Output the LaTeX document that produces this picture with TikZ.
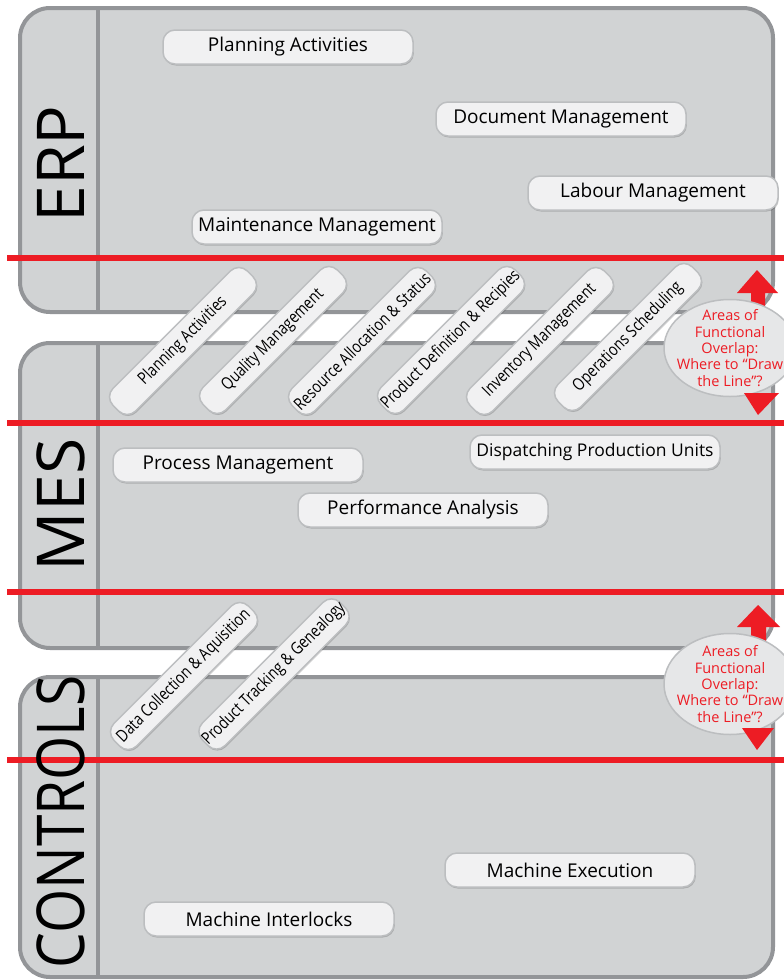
\documentclass[tikz,border=0pt]{standalone}
\usepackage{fontspec}
\setmainfont{Open Sans}
\usepackage{graphicx}
\usetikzlibrary{shapes.geometric,shadows}
\definecolor{panelfill}{HTML}{D1D3D4}
\definecolor{panelline}{HTML}{939598}
\definecolor{pillfill}{HTML}{F1F1F2}
\definecolor{pillline}{HTML}{BCBEC0}
\definecolor{redline}{HTML}{ED1C24}
\definecolor{ovfill}{HTML}{E6E7E8}
\newcommand{\dtxt}[1]{\scalebox{0.82}[1]{#1}}
\begin{document}
\begin{tikzpicture}[x=1pt,y=-1pt,
 panel/.style={draw=panelline, line width=4pt, fill=panelfill, rounded corners=30pt},
 sepline/.style={draw=panelline, line width=4pt},
 pill/.style={draw=pillline, line width=1.5pt, fill=pillfill, rounded corners=12pt, minimum width=250pt, minimum height=34pt, font=\fontsize{19}{22}\selectfont, inner sep=0pt,
   drop shadow={shadow xshift=0.8pt, shadow yshift=-1.5pt, fill=black, opacity=0.18}},
 dpill/.style={pill, minimum width=190pt, minimum height=32pt, rotate=45, rounded corners=12pt, font=\fontsize{17}{19}\selectfont},
 bigl/.style={rotate=90, font=\fontsize{66}{66}\selectfont, inner sep=0pt},
 redrule/.style={draw=redline, line width=6pt},
 ovl/.style={ellipse, draw=pillline, line width=1.5pt, fill=ovfill, minimum width=132pt, inner sep=0pt},
 ovtext/.style={text=redline, align=center, inner sep=0pt, font=\fontsize{14.5}{16.3}\selectfont},
 redarrow/.style={fill=redline}
]
\useasboundingbox (0,0) rectangle (784,980);
\clip (0,0) rectangle (784,980);
\fill[white] (0,0) rectangle (784,980);
% panels
\path[panel] (20,8) rectangle (773,312);
\path[panel] (20,343) rectangle (773,648);
\path[panel] (20,677) rectangle (773,977);
\draw[sepline] (98,8) -- (98,312);
\draw[sepline] (98,343) -- (98,648);
\draw[sepline] (98,677) -- (98,977);
% red rules
\draw[redrule] (7,258) -- (784,258);
\draw[redrule] (7,423) -- (784,423);
\draw[redrule] (7,592) -- (784,592);
\draw[redrule] (7,760) -- (784,760);
% big labels
\node[bigl] (erp) at (61,164) {ERP};
\node[bigl] (mes) at (61,505) {MES};
\node[bigl] (ctl) at (61,822) {\scalebox{0.86}[1]{CONTROLS}};
% horizontal pills
\node[pill] (pa) at (288,47) {Planning Activities};
\node[pill] (dm) at (561,119) {Document Management};
\node[pill] (lm) at (653,193) {Labour Management};
\node[pill] (mm) at (317,227) {Maintenance Management};
\node[pill] (prm) at (238,465) {Process Management};
\node[pill, font=\fontsize{17.5}{20}\selectfont] (dpu) at (595,452) {Dispatching Production Units};
\node[pill] (pfa) at (423,510) {Performance Analysis};
\node[pill] (me) at (570,870) {Machine Execution};
\node[pill] (mi) at (269,919) {Machine Interlocks};
% diagonal pills
\node[dpill] (d1) at (183,341) {\dtxt{Planning Activities}};
\node[dpill] (d2) at (273,340) {\dtxt{Quality Management}};
\node[dpill] (d3) at (362,341) {\dtxt{Resource Allocation \& Status}};
\node[dpill] (d4) at (451,340) {\dtxt{Product Definition \& Recipies}};
\node[dpill] (d5) at (540,341) {\dtxt{Inventory Management}};
\node[dpill] (d6) at (628,337) {\dtxt{Operations Scheduling}};
\node[dpill] (d7) at (184,676) {\dtxt{Data Collection \& Aquisition}};
\node[dpill] (d8) at (274,674) {\dtxt{Product Tracking \& Genealogy}};
% overlap 1
\fill[redarrow] (757,270) -- (778,293) -- (765,293) -- (765,315) -- (751,315) -- (751,293) -- (737,293) -- cycle;
\node[ovl, minimum height=97pt] (ov1) at (730,348) {};
\node[ovtext] (ov1t) at (ov1.center) {Areas of\\Functional\\Overlap:\\Where to “Draw\\the Line”?};
\fill[redarrow] (758,415) -- (779,393) -- (744,393) -- cycle;
% overlap 2
\fill[redarrow] (758,605) -- (780,627) -- (766,627) -- (766,645) -- (751,645) -- (751,627) -- (737,627) -- cycle;
\node[ovl, minimum height=101pt] (ov2) at (730,684) {};
\node[ovtext] (ov2t) at (ov2.center) {Areas of\\Functional\\Overlap:\\Where to “Draw\\the Line”?};
\fill[redarrow] (757,750) -- (774,728) -- (742,728) -- cycle;
\end{tikzpicture}
\end{document}
